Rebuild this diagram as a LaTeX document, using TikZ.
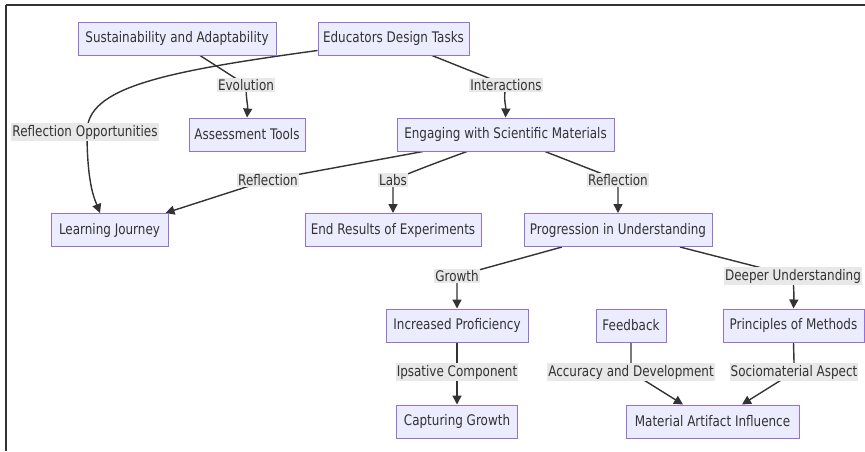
\documentclass[tikz,border=0pt]{standalone}
\usepackage{fontspec}
\setmainfont{DejaVu Sans}[FakeStretch=0.82]
\usetikzlibrary{arrows.meta,backgrounds}
\definecolor{nodefill}{HTML}{ECECFF}
\definecolor{nodeline}{HTML}{9370DB}
\definecolor{ink}{HTML}{333333}
\definecolor{lblfill}{HTML}{E8E8E8}
\begin{document}
\begin{tikzpicture}[x=1pt,y=-1pt,
  box/.style={draw=nodeline,fill=nodefill,line width=1pt,text=ink,inner sep=0pt,
    minimum height=33pt,font=\fontsize{14.6}{16}\selectfont},
  lbl/.style={fill=lblfill,text=ink,inner xsep=1pt,inner ysep=1.5pt,
    font=\fontsize{14.6}{16}\selectfont},
  edge/.style={draw=ink,line width=1.4pt},
  arr/.style={edge,-{Triangle[length=9pt,width=9pt]}}]
\useasboundingbox (0,0) rectangle (865,451);
\draw[ink,line width=2pt] (6,5) -- (865,5);
\draw[ink,line width=2pt] (6,5) -- (6,451);

% nodes
\node[box,minimum width=198pt] (sust) at (177,38.5) {Sustainability and Adaptability};
\node[box,minimum width=151pt] (edu) at (393.5,38.5) {Educators Design Tasks};
\node[box,minimum width=116pt] (asmt) at (247,134.5) {Assessment Tools};
\node[box,minimum width=217pt] (eng) at (505.5,134.5) {Engaging with Scientific Materials};
\node[box,minimum width=117pt] (lj) at (109.5,230) {Learning Journey};
\node[box,minimum width=176pt] (endr) at (393,230) {End Results of Experiments};
\node[box,minimum width=188pt] (prog) at (618,230) {Progression in Understanding};
\node[box,minimum width=142pt] (incp) at (457,325.5) {Increased Proficiency};
\node[box,minimum width=70pt] (fb) at (631,325.5) {Feedback};
\node[box,minimum width=141pt] (princ) at (793.5,325.5) {Principles of Methods};
\node[box,minimum width=121pt] (capt) at (457,421.5) {Capturing Growth};
\node[box,minimum width=173pt] (mat) at (712.5,421.5) {Material Artifact Influence};

% edge labels
\node[lbl] (lEv) at (246,85) {Evolution};
\node[lbl] (lInt) at (506,85) {Interactions};
\node[lbl] (lRO) at (85,132) {Reflection Opportunities};
\node[lbl] (lR1) at (268,180) {Reflection};
\node[lbl] (lLabs) at (393,180) {Labs};
\node[lbl] (lR2) at (618,180) {Reflection};
\node[lbl] (lGr) at (457,276) {Growth};
\node[lbl] (lDU) at (793,276) {Deeper Understanding};
\node[lbl] (lIp) at (457,372) {Ipsative Component};
\node[lbl] (lAcc) at (631,372) {Accuracy and Development};
\node[lbl] (lSoc) at (794,372) {Sociomaterial Aspect};

% connectors
\begin{scope}[on background layer]
\draw[arr] ([yshift=5pt]edu.south west) .. controls (160,72) and (87,88) .. ([xshift=2pt]lRO.center)
  .. controls (87,185) and (95,200) .. ([xshift=-9.5pt]lj.north);
\draw[arr] ([xshift=23pt]sust.south) -- (lEv.center) .. controls (246,100) and (248,105) .. (asmt.north);
\draw[arr] ([xshift=38.5pt]edu.south) -- (lInt.center) .. controls (503,100) and (506,105) .. (eng.north);
\draw[arr] ([xshift=-82.5pt]eng.south) -- (lR1.center) -- ([xshift=-3pt]lj.north east);
\draw[arr] ([xshift=-38.5pt]eng.south) .. controls (430,165) and (412,172) .. (lLabs.center)
  .. controls (393,195) and (393,200) .. (endr.north);
\draw[arr] ([xshift=39.5pt]eng.south) -- (lR2.center) .. controls (618,195) .. (prog.north);
\draw[arr] ([xshift=-56pt]prog.south) -- (lGr.center) .. controls (457,295) .. (incp.north);
\draw[arr] ([xshift=62pt]prog.south) -- (lDU.center) .. controls (794,295) .. (princ.north);
\draw[arr] (incp.south) -- (lIp.center) -- (capt.north);
\draw[arr] (fb.south) .. controls (631,360) .. (lAcc.center) -- ([xshift=-29.5pt]mat.north);
\draw[arr] (princ.south) .. controls (794,360) .. (lSoc.center) -- ([xshift=29.5pt]mat.north);
\end{scope}
\end{tikzpicture}
\end{document}
